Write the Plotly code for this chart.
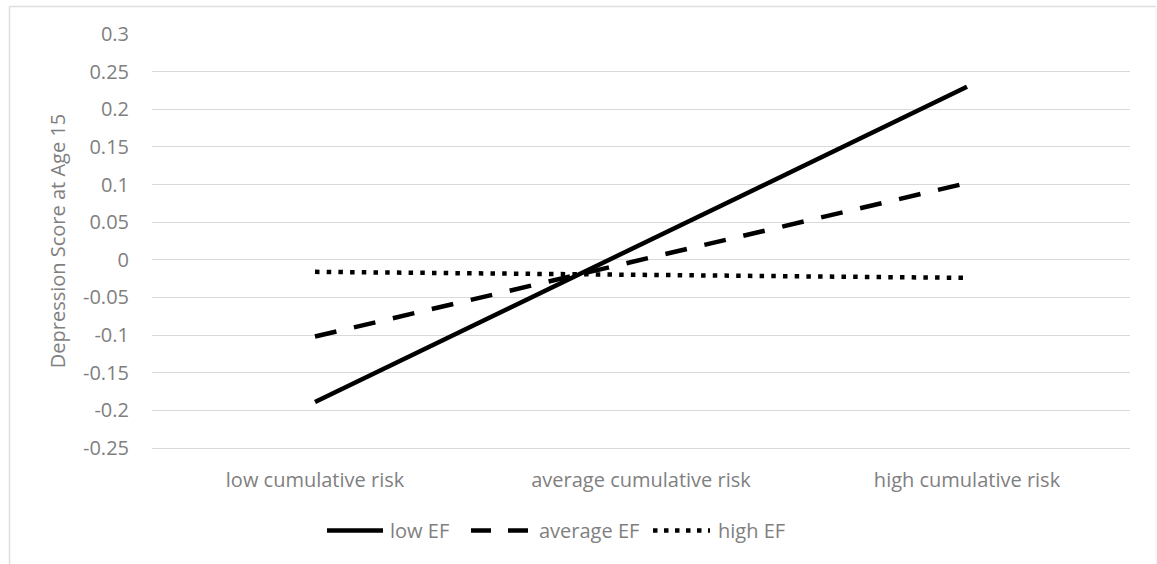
import plotly.graph_objects as go

# Category axis and series values
risk_levels = ["low cumulative risk", "average cumulative risk", "high cumulative risk"]
low_ef = [-0.189, 0.020, 0.230]
average_ef = [-0.102, 0.000, 0.102]
high_ef = [-0.016, -0.020, -0.024]

y_ticks = [-0.25, -0.2, -0.15, -0.1, -0.05, 0, 0.05, 0.1, 0.15, 0.2, 0.25, 0.3]
y_tick_text = ["-0.25", "-0.2", "-0.15", "-0.1", "-0.05", "0", "0.05", "0.1", "0.15", "0.2", "0.25", "0.3"]

series = [
    ("low EF", low_ef, "solid"),
    ("average EF", average_ef, "22px,18px"),
    ("high EF", high_ef, "4.5px,7.2px"),
]

FONT = "Open Sans"
TEXT_GREY = "#7f7f7f"
GRID = "#d9d9d9"
W, H = 1157, 564
ML, MR, MT, MB = 152, 27, 34, 116
PW, PH = W - ML - MR, H - MT - MB


def px_x(px):
    return (px - ML) / PW


def px_y(py):
    return (H - MB - py) / PH


fig = go.Figure()
for name, vals, dash in series:
    fig.add_trace(go.Scatter(
        x=risk_levels, y=vals, mode="lines", name=name,
        line=dict(color="black", width=4.5, dash=dash),
        showlegend=False,
    ))

# Legend drawn below the plot: sample line + label for each series
legend_items = [
    ("low EF", "solid", 327, 383, 388),
    ("average EF", "20px,17px", 471, 528, 537),
    ("high EF", "4.5px,6.5px", 653, 710, 716),
]
shapes = []
annotations = []
ly = px_y(530.5)
for name, dash, x0, x1, tx in legend_items:
    shapes.append(dict(type="line", xref="paper", yref="paper",
                       x0=px_x(x0), x1=px_x(x1), y0=ly, y1=ly,
                       line=dict(color="black", width=4.5, dash=dash)))
    annotations.append(dict(xref="paper", yref="paper", x=px_x(tx), y=ly,
                            xanchor="left", yanchor="middle", text=name,
                            showarrow=False,
                            font=dict(family=FONT, size=20, color=TEXT_GREY)))

# Chart-area frame
border = dict(color="#dedede", width=1.5)
shapes += [
    dict(type="line", xref="paper", yref="paper", x0=px_x(9.5), x1=px_x(9.5),
         y0=px_y(6.5), y1=px_y(564), line=border),
    dict(type="line", xref="paper", yref="paper", x0=px_x(9.5), x1=px_x(1156),
         y0=px_y(6.5), y1=px_y(6.5), line=border),
    dict(type="line", xref="paper", yref="paper", x0=px_x(1156), x1=px_x(1156),
         y0=px_y(6.5), y1=px_y(564), line=dict(color="#f0f0f0", width=1)),
]

fig.update_layout(
    width=W, height=H,
    margin=dict(l=ML, r=MR, t=MT, b=MB, autoexpand=False),
    paper_bgcolor="white", plot_bgcolor="white",
    font=dict(family=FONT, size=20, color=TEXT_GREY),
    shapes=shapes, annotations=annotations,
    xaxis=dict(
        type="category", range=[-0.5, 2.5],
        showgrid=False, zeroline=False,
        showline=True, linecolor=GRID, linewidth=1,
        ticks="", ticklabelstandoff=14,
        tickfont=dict(family=FONT, size=20, color=TEXT_GREY),
        fixedrange=True,
    ),
    yaxis=dict(
        range=[-0.2502, 0.3002],
        tickvals=y_ticks, ticktext=y_tick_text,
        showgrid=True, gridcolor=GRID, gridwidth=1,
        zeroline=False, showline=False, ticks="",
        ticklabelstandoff=22,
        tickfont=dict(family=FONT, size=20, color=TEXT_GREY),
        title=dict(text="Depression Score at Age 15", standoff=12,
                   font=dict(family=FONT, size=20, color=TEXT_GREY)),
        fixedrange=True,
    ),
)

fig.write_html("out.html")
